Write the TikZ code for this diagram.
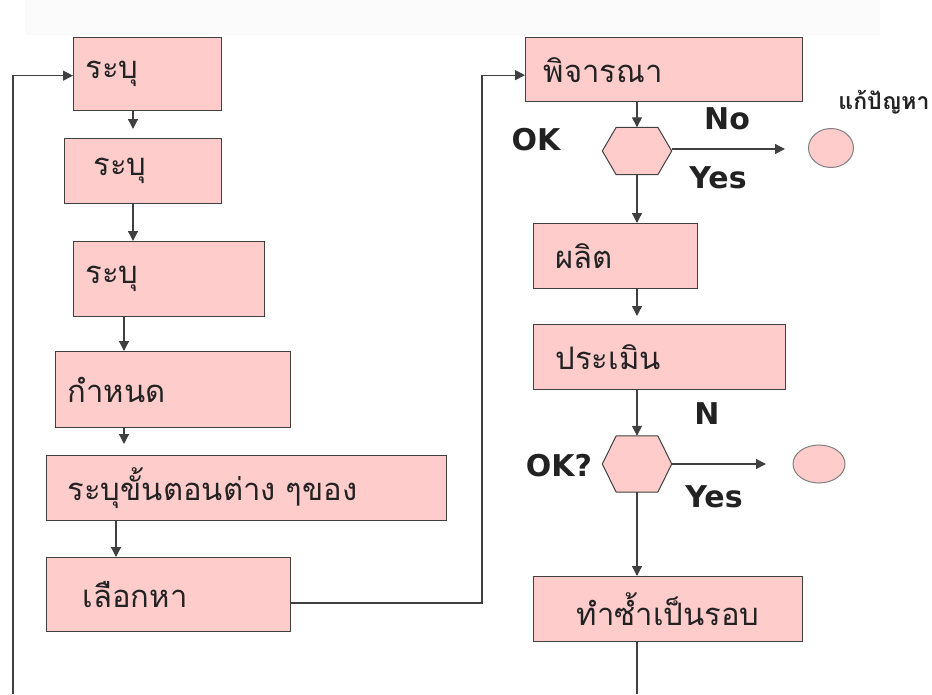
\documentclass[tikz,border=0pt]{standalone}
\usepackage{fontspec}
\setmainfont{Liberation Sans}
\newfontfamily\thaifont[Script=Thai]{Loma}
\newfontfamily\labfont{DejaVu Sans}
\usetikzlibrary{arrows.meta,calc,shapes.geometric}
\definecolor{boxpink}{HTML}{FFCCCC}
\definecolor{edge}{HTML}{404040}
\definecolor{ink}{HTML}{222222}
\newcommand\drawhexagon[1]{\draw[hexdraw] (#1.west) -- ($(#1.north west)!0.2!(#1.north east)$) -- ($(#1.north west)!0.8!(#1.north east)$) -- (#1.east) -- ($(#1.south west)!0.8!(#1.south east)$) -- ($(#1.south west)!0.2!(#1.south east)$) -- cycle;}
\begin{document}
\begin{tikzpicture}[x=1pt,y=-1pt,
  bx/.style={draw=edge, line width=1.3pt, fill=boxpink, anchor=north west, align=left, inner ysep=0pt, font=\thaifont\fontsize{31}{34}\selectfont, text=ink},
  arr/.style={draw=edge, line width=1.3pt, -{Triangle[length=10pt,width=10pt]}},
  ln/.style={draw=edge, line width=1.3pt},
  lab/.style={font=\labfont\bfseries\fontsize{30}{34}\selectfont, text=ink},
  hexbox/.style={minimum width=69pt, minimum height=47pt, inner sep=0pt},
  hexdraw/.style={draw=edge, line width=1pt, fill=boxpink},
  oval/.style={ellipse, draw=gray, line width=1pt, fill=boxpink, inner sep=0pt}]
\useasboundingbox (0,0) rectangle (932,694);
\fill[black!1.5] (25,0) rectangle (880,35);
% left column
\node[bx, text width=124pt, inner xsep=12pt, minimum height=73pt] (b1) at (73,37) {ระบุ};
\node[bx, text width=99pt, inner xsep=29pt, minimum height=65pt] (b2) at (64,138) {ระบุ};
\node[bx, text width=167pt, inner xsep=12pt, minimum height=75pt] (b3) at (73,241) {ระบุ};
\node[bx, text width=211pt, inner xsep=12pt, minimum height=76pt] (b4) at (55,351) {กำหนด};
\node[bx, text width=358pt, inner xsep=21pt, minimum height=65pt] (b5) at (46,455) {ระบุขั้นตอนต่าง ๆของ};
\node[bx, text width=172pt, inner xsep=36pt, minimum height=74pt] (b6) at (46,557) {เลือกหา};
% right column
\node[bx, text width=241pt, inner xsep=18pt, minimum height=64pt] (b7) at (525,37) {พิจารณา};
\node[hexbox] (h1) at (637,151) {};
\drawhexagon{h1}
\node[oval, minimum width=45pt, minimum height=39pt] (e1) at (831,148) {};
\node[bx, text width=120pt, inner xsep=22pt, minimum height=65pt] (b8) at (533,223) {ผลิต};
\node[bx, text width=208pt, inner xsep=22pt, minimum height=65pt] (b9) at (533,324) {ประเมิน};
\node[hexbox, minimum height=56pt] (h2) at (637,464) {};
\drawhexagon{h2}
\node[oval, minimum width=52pt, minimum height=38pt] (e2) at (819,464) {};
\node[bx, align=center, text width=249pt, inner xsep=10pt, minimum height=65pt] (b10) at (533,576) {ทำซ้ำเป็นรอบ};
% labels
\node[lab] (tno) at (727,119) {No};
\node[lab] (tok) at (536,140) {OK};
\node[lab] (tyes1) at (718,178) {Yes};
\node[lab] (tn) at (707,414) {N};
\node[lab] (tok2) at (559,466) {OK?};
\node[lab] (tyes2) at (714,497) {Yes};
\node[font=\thaifont\bfseries\fontsize{23}{25}\selectfont, text=ink] (tfix) at (884,102) {แก้ปัญหา};
% helper coordinates
\coordinate (xa) at (133,0);
\coordinate (xb) at (124,0);
\coordinate (xc) at (116,0);
\coordinate (xr) at (637,0);
\coordinate (jx) at (482,0);
\coordinate (yb) at (0,603);
\coordinate (fb) at (13,694);
\coordinate (bot) at (637,694);
\coordinate (t1) at (785,149);
\coordinate (t2) at (766,464);
% connectors left
\draw[arr, shorten >=9pt] (b1.south -| xa) -- (b2.north -| xa);
\draw[arr] (b2.south -| xa) -- (b3.north -| xa);
\draw[arr] (b3.south -| xb) -- (b4.north -| xb);
\draw[arr, shorten >=11pt] (b4.south -| xb) -- (b5.north -| xb);
\draw[arr] (b5.south -| xc) -- (b6.north -| xc);
\draw[arr] (fb) |- ($(b1.west)+(0,1.5)$);
\draw[arr] (b6.east |- yb) -- (jx |- yb) |- ($(b7.west)+(0,5.5)$);
% connectors right
\draw[arr] (b7.south -| xr) -- (h1.north);
\draw[arr] (h1.east |- t1) -- (t1);
\draw[arr] (h1.south) -- (b8.north -| xr);
\draw[arr, shorten >=8pt] (b8.south -| xr) -- (b9.north -| xr);
\draw[arr] (b9.south -| xr) -- (h2.north);
\draw[arr] (h2.east) -- (t2);
\draw[arr] (h2.south) -- (b10.north -| xr);
\draw[ln] (b10.south -| xr) -- (bot);
\end{tikzpicture}
\end{document}
